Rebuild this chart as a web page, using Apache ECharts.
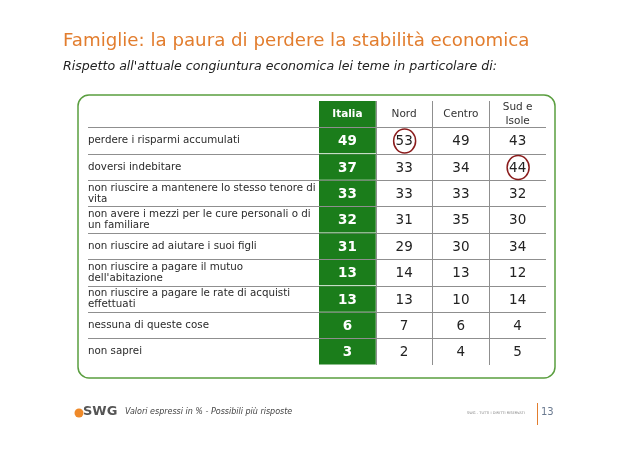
<!DOCTYPE html>
<html>
<head>
<meta charset="utf-8">
<script src="https://cdn.jsdelivr.net/npm/echarts@6/dist/echarts.min.js"></script>
<style>
html, body { margin: 0; padding: 0; background: #fff; }
#chart { width: 638px; height: 451px; }
</style>
</head>
<body>
<div id="chart"></div>
<script>
// righe della tabella (la prima è l'intestazione)
var rowLabels = ['',
    'perdere i risparmi accumulati',
    'doversi indebitare',
    'non riuscire a mantenere lo stesso tenore di\nvita',
    'non avere i mezzi per le cure personali o di\nun familiare',
    'non riuscire ad aiutare i suoi figli',
    'non riuscire a pagare il mutuo\ndell\'abitazione',
    'non riuscire a pagare le rate di acquisti\neffettuati',
    'nessuna di queste cose',
    'non saprei']
var columns = ['Italia', 'Nord', 'Centro', 'Sud e\nIsole']
var italia = [49, 37, 33, 32, 31, 13, 13, 6, 3]
var nord = [53, 33, 33, 31, 29, 14, 13, 7, 2]
var centro = [49, 34, 33, 35, 30, 13, 10, 6, 4]
var sud = [43, 44, 32, 30, 34, 12, 14, 4, 5]
var circled = [[1, 1], [3, 2]] // [colonna, riga] evidenziati

var FONT = 'DejaVu Sans'
var GREEN = '#1b7d1b'
var ORANGE = '#e27d2e'
var LINE = '#8f8f8f'

var cells = []
columns.forEach(function(c, ci) {
    cells.push([ci, 0, NaN]) // intestazione
});
[italia, nord, centro, sud].forEach(function(vals, ci) {
    vals.forEach(function(v, ri) {
        cells.push([ci, ri + 1, v])
    })
})

function isCircled(col, row) {
    return circled.some(function(c) { return c[0] === col && c[1] === row })
}

function renderCell(params, api) {
    var col = api.value(0)
    var row = api.value(1)
    var p = api.coord([col, row])
    var s = api.size([1, 1])
    var children = []
    if (col === 0) {
        children.push({
            type: 'rect',
            shape: { x: p[0] - s[0] / 2, y: p[1] - s[1] / 2 + (row === 0 ? 0 : 0.5), width: s[0], height: s[1] - (row === 0 ? 0.5 : 1) },
            style: { fill: GREEN }
        })
    }
    if (row === 0) {
        children.push({
            type: 'text',
            style: {
                x: p[0], y: p[1], text: columns[col], align: 'center', verticalAlign: 'middle',
                fontFamily: FONT, fontSize: 10.5, lineHeight: 14,
                fontWeight: col === 0 ? 'bold' : 'normal',
                fill: col === 0 ? '#fff' : '#333'
            }
        })
    } else {
        children.push({
            type: 'text',
            style: {
                x: p[0], y: p[1] + 1, text: String(api.value(2)), align: 'center', verticalAlign: 'middle',
                fontFamily: FONT, fontSize: 13.5,
                fontWeight: col === 0 ? 'bold' : 'normal',
                fill: col === 0 ? '#fff' : '#222'
            }
        })
        if (isCircled(col, row)) {
            children.push({
                type: 'ellipse',
                shape: { cx: p[0] + 0.5, cy: p[1] + 0.5, rx: 11, ry: 12 },
                style: { fill: null, stroke: '#8a1c1c', lineWidth: 1.5 }
            })
        }
    }
    return { type: 'group', children: children }
}

var splitStyle = { show: true, showMinLine: false, showMaxLine: false, lineStyle: { color: LINE, width: 1 } }

var option = {
    animation: false,
    backgroundColor: '#fff',
    title: {
        text: 'Famiglie: la paura di perdere la stabilità economica',
        subtext: 'Rispetto all\'attuale congiuntura economica lei teme in particolare di:',
        left: 58,
        top: 27,
        itemGap: 10,
        textStyle: { color: ORANGE, fontFamily: FONT, fontSize: 18.2, fontWeight: 'normal' },
        subtextStyle: { color: '#222', fontFamily: FONT, fontSize: 12.6, fontStyle: 'italic' }
    },
    grid: [
        { left: 88, top: 101, width: 231, height: 264 },
        { left: 319, top: 101, width: 227, height: 264 }
    ],
    xAxis: [
        { gridIndex: 0, type: 'category', data: ['voce'], show: false },
        {
            gridIndex: 1, type: 'category', data: columns, position: 'top',
            axisLine: { show: false }, axisTick: { show: false }, axisLabel: { show: false },
            splitLine: splitStyle
        }
    ],
    yAxis: [
        {
            gridIndex: 0, type: 'category', data: rowLabels, inverse: true,
            axisLine: { show: false }, axisTick: { show: false },
            axisLabel: { inside: true, margin: 0, fontFamily: FONT, fontSize: 10.3, lineHeight: 11, color: '#2a2a2a' },
            splitLine: splitStyle
        },
        {
            gridIndex: 1, type: 'category', data: rowLabels, inverse: true,
            axisLine: { show: false }, axisTick: { show: false }, axisLabel: { show: false },
            splitLine: splitStyle
        }
    ],
    series: [{
        type: 'custom',
        xAxisIndex: 1,
        yAxisIndex: 1,
        data: cells,
        renderItem: renderCell
    }],
    graphic: [
        {
            type: 'rect', z: -10,
            shape: { x: 78, y: 95, width: 477, height: 283, r: 11 },
            style: { fill: null, stroke: '#5a9e3f', lineWidth: 1.5 }
        },
        {
            type: 'circle', shape: { cx: 79, cy: 413, r: 4.5 },
            style: { fill: '#ef8a2a' }
        },
        {
            type: 'text', left: 83, top: 405,
            style: { text: 'SWG', fontFamily: FONT, fontSize: 13, fontWeight: 'bold', fill: '#555' }
        },
        {
            type: 'text', left: 125, top: 408,
            style: { text: 'Valori espressi in % - Possibili più risposte', fontFamily: FONT, fontSize: 8, fontStyle: 'italic', fill: '#444' }
        },
        {
            type: 'text', left: 467, top: 411,
            style: { text: 'SWG - TUTTI I DIRITTI RISERVATI', fontFamily: FONT, fontSize: 3.6, fill: '#888' }
        },
        {
            type: 'line', shape: { x1: 537.5, y1: 403, x2: 537.5, y2: 425 },
            style: { stroke: ORANGE, lineWidth: 1 }
        },
        {
            type: 'text', left: 541, top: 407,
            style: { text: '13', fontFamily: FONT, fontSize: 10, fill: '#6a7a90' }
        }
    ]
}

var chart = echarts.init(document.getElementById('chart'))
chart.setOption(option)
</script>
</body>
</html>
